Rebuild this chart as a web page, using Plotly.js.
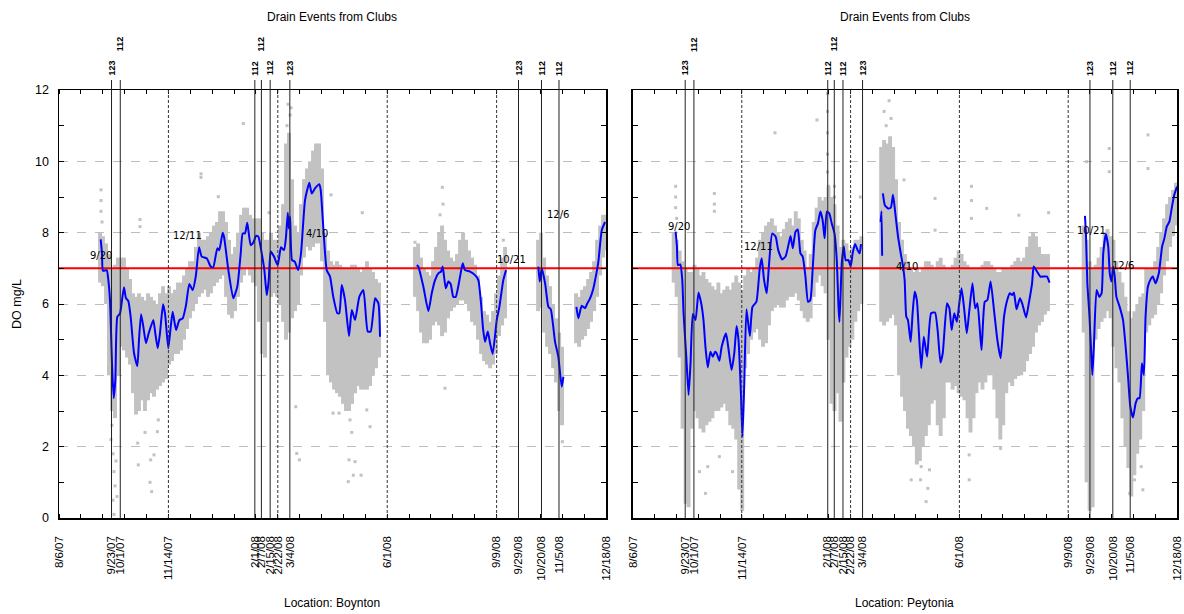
<!DOCTYPE html>
<html><head><meta charset="utf-8">
<script src="https://cdn.plot.ly/plotly-3.0.1.min.js"></script>
<style>html,body{margin:0;padding:0;background:#fff}#chart{width:1184px;height:614px}</style>
</head><body><div id="chart"></div>
<script>
// ---- axis / event data ----
const startDate = [2007, 7, 6]; // 8/6/07, day offsets below are measured from this date
const rangeDates = ['2007-08-06', '2008-12-18'];
const tickDates = ['2007-08-06','2007-09-23','2007-10-01','2007-11-14','2008-02-01','2008-02-07','2008-02-15','2008-02-22','2008-03-04','2008-06-01','2008-09-09','2008-09-29','2008-10-20','2008-11-05','2008-12-18'];
const tickLabels = ['8/6/07','9/23/07','10/1/07','11/14/07','2/1/08','2/7/08','2/15/08','2/22/08','3/4/08','6/1/08','9/9/08','9/29/08','10/20/08','11/5/08','12/18/08'];
const drainDates = ['2007-09-23','2007-10-01','2008-02-01','2008-02-07','2008-02-15','2008-03-04','2008-09-29','2008-10-20','2008-11-05'];
const drainClubs = ['123','112','112','112','112','123','123','112','112'];
const drainRow = [0,1,0,1,0,0,0,0,0];
const dashedDates = ['2007-11-14','2008-02-22','2008-06-01','2008-09-09'];
const threshold = 7;
const yTicks = [0,2,4,6,8,10,12];
const locations = ['Location: Boynton', 'Location: Peytonia'];
const panelTitle = 'Drain Events from Clubs';

// ---- in-plot date notes ----
const noteTextL = ['9/20','12/11','4/10','10/21','12/6'];
const noteDayL = [38.4, 117.0, 235.8, 413.2, 456.1];
const noteDoL = [7.35, 7.91, 7.99, 7.26, 8.52];
const noteTextR = ['9/20','12/11','4/10','10/21','12/6'];
const noteDayR = [42.0, 115.0, 251.8, 421.5, 450.7];
const noteDoR = [8.16, 7.60, 7.04, 8.07, 7.09];

// ---- Boynton (left) smoothed DO line (null = gap) ----
const blueDayL = [38.1,39.3,40.2,43.6,45.1,46.6,47.5,48.4,50.0,51.5,53.3,55.8,57.6,59.4,61.2,63.3,65.5,68.6,71.6,73.1,75.0,77.1,79.5,82.0,86.2,88.0,90.2,92.3,95.1,96.9,99.9,102.1,103.9,107.0,110.0,113.1,116.1,119.1,122.2,125.0,128.0,130.4,135.0,138.7,141.0,144.7,146.5,149.6,150.8,154.8,159.3,163.0,166.1,167.9,170.0,172.1,175.2,177.6,180.1,182.2,185.3,187.7,189.9,191.7,193.5,196.5,199.9,202.9,205.7,207.5,209.1,210.0,211.2,213.0,215.5,218.5,221.2,224.9,228.8,231.0,234.0,237.9,239.2,244.7,247.7,250.7,254.4,256.2,258.4,261.4,265.1,267.6,270.6,274.5,278.2,282.2,284.9,288.9,291.9,293.4,
  null,
  327.0,328.4,333.0,337.6,340.7,343.7,346.7,349.2,350.7,353.5,355.9,358.0,360.4,362.6,366.6,369.0,371.1,375.7,380.3,383.3,385.8,387.6,389.4,391.9,394.0,396.4,400.1,402.5,406.1,408.6,
  null,
  438.1,439.4,441.2,444.3,447.3,449.5,453.4,456.4,459.5,461.0,
  null,
  472.9,474.7,477.8,480.8,482.6,485.4,488.1,490.0,493.0,496.1,499.1];
const blueDoL = [7.81,7.42,6.93,6.95,6.67,6.11,5.27,4.35,3.36,3.87,5.64,5.74,6.11,6.47,6.16,6.09,5.64,4.62,4.26,4.99,5.71,5.36,4.90,5.18,5.55,5.18,4.76,5.18,5.99,5.73,4.76,5.36,5.78,5.27,5.55,5.60,5.97,6.56,6.39,6.77,7.59,7.33,7.28,7.05,7.03,7.56,7.51,8.00,7.89,6.95,6.16,6.49,7.42,7.98,7.98,8.28,7.65,7.72,7.91,7.89,7.42,6.95,6.25,6.67,7.47,7.33,7.09,7.59,7.51,7.89,8.56,8.12,8.45,7.23,7.19,6.95,7.42,8.92,9.40,9.10,9.24,9.36,9.20,6.95,6.77,6.20,5.74,5.74,6.53,6.11,5.10,5.83,5.55,6.20,6.39,5.23,5.23,6.16,6.02,5.08,
  null,
  7.09,7.05,6.49,5.80,6.30,6.67,6.86,6.91,7.05,6.44,6.63,6.56,6.20,6.20,6.77,7.14,6.95,6.91,6.81,6.67,6.00,5.30,4.94,5.23,4.90,4.60,5.55,5.92,6.67,6.95,
  null,
  7.05,6.63,7.00,6.58,5.92,5.85,4.94,4.52,3.68,3.96,
  null,
  5.92,5.60,5.95,5.88,6.00,6.16,6.40,6.67,7.19,8.07,8.30];

// ---- Peytonia (right) smoothed DO line (null = gap) ----
const blueDayR = [39.2,40.4,41.3,43.5,45.3,46.5,49.0,51.1,52.9,55.0,57.5,60.2,62.7,64.8,66.6,68.7,71.2,73.3,75.5,76.9,79.4,81.5,85.5,87.9,90.6,93.1,95.2,97.0,99.2,100.6,102.2,104.3,107.4,109.8,113.4,116.5,118.3,120.4,122.9,125.0,128.0,131.1,133.5,137.1,140.2,143.2,144.8,146.9,149.4,151.5,153.9,156.0,158.5,160.9,163.0,165.1,167.6,170.0,172.2,174.3,176.1,178.2,180.4,182.7,185.2,187.3,188.9,189.8,191.9,193.7,195.5,198.0,200.1,201.9,204.1,206.5,208.3,209.6,
  null,
  227.6,228.4,229.0,
  null,
  229.7,231.5,234.5,237.0,239.0,241.1,243.6,246.1,248.2,249.7,251.2,252.7,255.2,257.0,258.9,260.9,262.8,264.9,267.3,270.3,274.0,277.6,280.1,282.6,284.7,288.6,290.8,292.9,295.3,297.7,299.9,302.0,304.5,306.8,309.0,312.0,314.5,316.6,320.3,323.3,325.7,328.7,331.8,334.9,337.9,341.0,344.0,346.4,348.5,350.1,352.5,355.6,357.7,361.3,363.8,366.8,368.3,371.3,374.4,377.5,380.5,382.9,
  null,
  415.4,416.3,417.6,419.4,420.9,422.2,423.6,426.1,428.6,430.7,432.2,434.6,436.8,438.2,439.8,441.3,442.8,444.3,447.3,450.4,452.8,455.0,457.1,459.6,462.0,464.1,465.6,467.8,469.6,471.1,473.3,475.4,477.8,480.2,483.3,486.3,488.4,490.6,493.0,495.4,497.5,500.0];
const blueDoR = [8.03,7.61,7.09,7.11,6.67,5.74,4.52,3.45,4.34,5.72,5.55,6.32,6.02,5.55,4.80,4.22,4.66,4.52,4.66,4.62,4.41,4.80,5.18,4.71,4.15,4.62,5.38,4.99,3.50,2.28,3.68,5.85,5.10,5.92,6.06,7.00,7.28,6.69,6.30,7.09,7.98,7.89,7.51,7.25,7.33,7.70,7.91,7.56,8.03,8.09,7.42,7.33,6.77,6.06,6.11,6.95,8.07,8.26,8.59,8.35,7.84,8.59,8.54,8.26,7.98,7.23,5.92,5.50,7.14,7.61,7.23,7.23,7.05,7.42,7.68,7.51,7.42,7.68,
  null,
  8.30,8.60,7.35,
  null,
  9.10,8.77,8.68,8.70,9.06,8.54,7.89,7.42,7.05,6.67,5.64,5.55,4.94,5.74,6.34,6.11,5.18,4.20,5.08,4.52,5.74,5.76,5.23,4.36,4.62,6.02,5.88,5.27,5.74,5.50,6.02,6.44,5.83,5.18,5.78,6.58,5.88,6.02,4.71,6.06,6.11,6.63,5.83,4.99,4.48,5.64,6.11,6.30,6.25,6.32,5.85,6.16,6.02,5.62,6.02,6.58,7.05,6.91,6.77,6.77,6.77,6.60,
  null,
  8.47,7.98,6.58,5.74,4.80,4.01,4.80,6.39,6.20,6.30,7.42,7.96,7.61,6.86,6.63,7.05,6.77,6.20,5.92,5.55,4.80,3.96,3.12,2.82,3.22,3.36,3.36,4.34,4.01,5.64,6.49,6.67,6.77,6.58,6.86,7.61,7.84,8.17,8.31,8.73,9.06,9.29];

// ---- raw-reading cloud, Boynton: day, low and high of the dense band ----
const cloudDayL = [37.5,40.2,43.0,45.7,48.4,51.2,53.9,56.7,59.4,62.2,64.9,67.6,70.4,73.1,75.9,78.6,81.4,84.1,86.8,89.6,92.3,95.1,97.8,100.6,103.3,106.0,108.8,111.5,114.3,117.0,119.7,122.5,125.2,128.0,130.7,133.5,136.2,138.9,141.7,144.4,147.2,149.9,152.7,155.4,158.1,160.9,163.6,166.4,169.1,171.9,174.6,177.3,180.1,182.8,185.6,188.3,191.0,193.8,196.5,199.3,202.0,204.8,207.5,210.2,213.0,215.7,218.5,221.2,224.0,226.7,229.4,232.2,234.9,237.7,240.4,243.2,245.9,248.6,251.4,254.1,256.9,259.6,262.3,265.1,267.8,270.6,273.3,276.1,278.8,281.5,284.3,287.0,289.8,292.5,
  325.4,328.2,330.9,333.6,336.4,339.1,341.9,344.6,347.4,350.1,352.8,355.6,358.3,361.1,363.8,366.6,369.3,372.0,374.8,377.5,380.3,383.0,385.8,388.5,391.2,394.0,396.7,399.5,402.2,405.0,407.7,
  437.9,440.6,443.4,446.1,448.8,451.6,454.3,457.1,459.8,
  472.6,475.4,478.1,480.8,483.6,486.3,489.1,491.8,494.6,497.3,499.1];
const cloudLoL = [6.6,6.5,6.0,4.0,3.0,2.8,4.0,4.8,4.7,4.5,4.3,3.5,2.9,3.0,3.3,3.0,3.3,3.5,3.4,3.6,3.7,3.8,3.9,4.3,4.4,4.6,4.6,4.7,5.0,5.3,5.6,5.8,6.0,6.2,6.3,6.4,6.2,6.3,6.5,6.6,6.7,6.8,6.2,5.7,5.6,5.8,6.2,6.6,6.8,7.0,6.8,6.6,6.5,5.5,4.6,4.5,5.5,6.2,6.3,6.2,6.0,5.5,5.0,5.2,5.6,5.8,6.0,6.8,7.3,7.6,7.5,7.6,7.7,7.7,7.2,5.5,4.0,3.8,3.6,3.5,3.4,3.2,3.0,3.0,3.2,3.5,3.7,3.6,3.6,3.6,3.7,4.0,4.2,4.5,
  6.2,5.8,5.2,4.9,4.9,5.0,5.4,5.5,5.4,5.1,5.2,5.6,5.8,5.9,6.0,6.1,6.1,6.0,5.8,5.5,5.4,5.0,4.6,4.4,4.3,4.2,4.3,4.6,5.1,5.4,5.6,
  5.8,5.9,5.2,4.8,4.6,4.2,3.8,3.0,2.6,
  4.9,4.8,5.0,5.1,5.3,5.5,5.8,6.2,6.8,7.3,7.5];
const cloudHiL = [8.0,7.9,7.7,7.4,7.0,7.1,7.3,7.3,7.3,7.0,6.7,6.3,6.2,6.3,6.2,6.1,6.3,6.2,6.1,6.0,6.3,6.5,6.3,6.5,6.3,6.4,6.6,6.6,6.8,7.0,7.2,7.2,7.6,8.0,7.8,7.8,7.9,8.0,8.2,8.3,8.6,8.6,8.3,7.8,7.4,7.6,8.0,8.5,8.7,8.7,8.5,8.4,8.4,8.4,8.0,7.8,7.8,8.0,7.8,7.8,8.2,8.8,10.5,10.8,9.5,8.2,8.0,8.8,9.5,9.8,10.0,10.3,10.5,10.5,9.8,8.0,7.5,7.2,7.1,7.2,7.1,7.0,7.0,7.0,7.1,7.1,7.0,6.9,7.0,7.2,7.0,6.9,6.7,6.6,
  7.6,7.7,7.3,7.0,6.9,6.8,7.2,7.6,8.0,8.2,7.8,7.5,7.3,7.2,7.4,7.8,8.0,7.8,7.5,7.3,7.1,6.8,6.2,5.8,5.7,5.5,5.8,6.3,6.8,7.3,7.6,
  7.8,8.0,7.3,6.8,6.5,6.0,5.6,5.2,4.8,
  6.3,6.2,6.4,6.5,6.7,6.9,7.2,7.8,8.2,8.5,8.5];

// ---- raw-reading cloud, Peytonia ----
const cloudDayR = [37.4,40.1,42.9,45.6,48.4,51.1,53.8,56.6,59.3,62.0,64.8,67.5,70.3,73.0,75.7,78.5,81.2,83.9,86.7,89.4,92.2,94.9,97.6,100.4,103.1,105.8,108.6,111.3,114.1,116.8,119.5,122.3,125.0,127.7,130.5,133.2,135.9,138.7,141.4,144.2,146.9,149.6,152.4,155.1,157.8,160.6,163.3,166.1,168.8,171.5,174.3,177.0,179.7,182.5,185.2,188.0,190.7,193.4,196.2,198.9,201.6,204.4,207.1,209.9,
  228.1,230.8,233.6,236.3,239.1,241.8,244.5,247.3,250.0,252.7,255.5,258.2,260.9,263.7,266.4,269.2,271.9,274.6,277.4,280.1,282.8,285.6,288.3,291.1,293.8,296.5,299.3,302.0,304.7,307.5,310.2,313.0,315.7,318.4,321.2,323.9,326.6,329.4,332.1,334.9,337.6,340.3,343.1,345.8,348.5,351.3,354.0,356.8,359.5,362.2,365.0,367.7,370.4,373.2,375.9,378.6,381.4,
  414.2,416.9,419.7,422.4,425.2,427.9,430.7,433.4,436.1,438.9,441.6,444.3,447.1,449.8,452.6,455.3,458.0,460.8,463.5,466.2,469.0,471.7,474.5,477.2,479.9,482.7,485.4,488.1,490.9,493.6,496.4,499.1];
const cloudLoR = [6.6,6.2,4.5,2.5,0.4,0.3,2.5,3.0,2.8,2.5,2.4,2.6,2.7,2.8,3.0,3.0,3.1,3.2,3.0,2.6,2.5,2.2,0.8,0.2,4.2,4.6,5.0,5.2,5.3,5.0,4.8,4.9,5.4,5.8,5.9,6.0,5.9,5.9,6.1,6.2,6.2,6.3,6.1,5.8,5.6,5.5,5.6,6.2,6.6,6.8,6.5,6.3,5.0,3.2,3.0,3.5,2.7,3.8,4.5,4.8,5.0,5.5,5.8,6.0,
  5.5,5.4,5.5,5.6,5.7,5.4,4.0,3.4,3.0,2.5,2.3,2.0,1.5,1.6,2.0,2.3,2.6,3.2,3.3,2.6,2.3,2.8,3.8,3.8,3.6,3.7,3.5,3.4,3.3,2.8,2.4,2.8,3.5,3.8,3.6,3.8,4.0,4.0,3.6,2.8,2.2,2.6,3.5,3.8,3.7,3.9,4.0,4.0,4.1,4.4,4.6,4.8,5.2,5.4,5.5,5.7,5.8,
  5.2,1.0,0.2,0.3,5.0,5.3,5.5,5.6,5.8,5.6,4.8,4.2,3.8,2.8,2.0,1.4,0.6,1.2,1.8,2.2,3.0,5.2,5.4,5.6,5.7,6.0,6.3,6.8,7.2,7.6,7.9,8.2];
const cloudHiR = [8.0,7.8,7.5,7.2,7.0,6.9,6.9,7.1,7.0,6.8,6.9,6.7,6.6,6.5,6.4,6.6,6.3,6.4,6.5,6.4,6.6,6.8,6.6,6.4,6.8,7.0,6.9,7.0,7.3,7.8,8.0,8.2,8.3,8.4,8.2,8.0,7.9,8.1,8.3,8.4,8.2,8.6,8.4,7.8,7.5,7.0,7.4,8.3,8.7,9.0,8.9,9.0,9.3,9.0,8.8,8.2,7.6,7.8,7.7,7.5,7.6,7.8,7.8,7.9,
  10.4,10.6,10.5,10.7,10.4,9.5,8.3,7.8,7.4,7.2,7.0,6.9,7.0,6.9,7.0,7.2,7.2,7.1,7.0,7.2,7.3,7.1,7.0,7.0,7.1,7.3,7.5,7.4,7.2,7.1,7.0,7.0,7.0,7.0,7.1,7.2,7.2,7.1,7.0,6.9,6.9,7.0,7.0,7.0,7.1,7.2,7.3,7.2,7.3,7.6,7.9,8.0,7.9,7.6,7.4,7.4,7.4,
  8.2,7.8,7.2,7.0,7.1,7.3,7.6,8.0,8.1,7.9,7.8,7.2,6.9,6.6,6.2,5.8,5.6,5.8,6.0,6.2,6.3,7.0,7.0,7.0,7.2,7.6,8.0,8.4,8.8,9.0,9.2,9.4];

// ---- scattered single readings outside the dense band ----
const dotDayL = [38.4,38.4,38.4,39.3,49.4,50.3,51.2,49.4,50.3,52.1,53.0,47.5,48.4,83.2,84.7,83.8,72.5,71.9,86.8,89.9,90.8,78.6,216.4,217.3,219.7,250.5,264.4,269.0,276.1,270.6,265.1,266.0,267.6,284.3,281.3,256.0,352.8,460.1,129.8,129.8,168.5,74.0,74.0,145.6,192.0,248.6,277.2,350.4,351.0,348.3,406.1,209.3,211.2,208.4,212.1,325.4];
const dotDoL = [9.2,8.9,8.6,8.3,1.8,1.3,0.9,0.5,0.1,1.6,0.6,2.2,2.6,1.0,0.74,1.63,1.49,2.1,1.77,2.42,2.75,2.4,3.12,1.81,1.63,2.94,1.02,1.2,1.2,1.58,1.63,2.75,2.4,2.56,3.03,2.94,3.64,2.14,9.65,9.55,11.06,8.37,8.17,9.01,8.56,9.06,8.56,9.27,8.8,8.5,7.79,11.6,11.3,11.0,11.5,7.73];
const dotDayR = [39.2,39.2,39.2,40.1,74.8,74.8,74.8,130.5,169.1,178.8,178.8,178.8,178.8,178.8,179.7,185.2,185.2,208.9,235.4,230.8,232.7,237.2,249.1,277.6,277.6,311.1,311.1,311.1,325.1,354.6,382.0,417.0,437.7,437.7,473.3,473.3,66.6,68.7,79.4,91.5,61.1,255.7,264.9,269.4,271.0,272.5,264.3,309.0,309.0,337.9,456.5,461.0,468.6,467.1];
const dotDoR = [9.3,9.0,8.7,8.4,9.1,8.8,8.6,10.8,11.16,11.9,11.4,10.8,10.2,9.7,9.3,9.3,9.0,9.0,11.7,11.4,11.0,11.2,9.48,8.96,8.07,9.3,8.9,8.4,8.68,8.49,8.56,9.99,10.36,9.71,10.74,9.8,0.69,1.44,1.72,1.3,1.3,1.07,1.44,0.46,0.83,1.35,1.07,1.07,1.77,1.95,0.69,1.07,0.79,1.44];

// ---- helpers ----
const DAY = 86400000;
const base = Date.UTC(startDate[0], startDate[1], startDate[2]);
function toDate(d) {
  if (d === null) return null;
  return new Date(base + d * DAY).toISOString().slice(0, 19).replace('T', ' ');
}
const FONT = 'Liberation Sans, Arial, sans-serif';
const GRAY = '#c2c2c2';

function panelTraces(cDay, cLo, cHi, dDay, dDo, bDay, bDo, xa, ya) {
  return [
    {type: 'bar', x: cDay.map(toDate), base: cLo, y: cHi.map((h, i) => h - cLo[i]),
     width: 3.6 * DAY, marker: {color: GRAY, line: {width: 0}}, xaxis: xa, yaxis: ya,
     hoverinfo: 'skip', showlegend: false},
    {type: 'scatter', mode: 'markers', x: dDay.map(toDate), y: dDo,
     marker: {color: GRAY, size: 3, symbol: 'square'}, xaxis: xa, yaxis: ya,
     hoverinfo: 'skip', showlegend: false, cliponaxis: true},
    {type: 'scatter', mode: 'lines', x: rangeDates, y: [threshold, threshold],
     line: {color: '#ff0000', width: 2}, xaxis: xa, yaxis: ya, hoverinfo: 'skip', showlegend: false},
    {type: 'scatter', mode: 'lines', x: bDay.map(toDate), y: bDo, connectgaps: false,
     line: {color: '#0000ff', width: 2, shape: 'spline', smoothing: 0.5}, xaxis: xa, yaxis: ya,
     hoverinfo: 'skip', showlegend: false}
  ];
}

const data = [].concat(
  panelTraces(cloudDayL, cloudLoL, cloudHiL, dotDayL, dotDoL, blueDayL, blueDoL, 'x', 'y'),
  panelTraces(cloudDayR, cloudLoR, cloudHiR, dotDayR, dotDoR, blueDayR, blueDoR, 'x2', 'y2')
);

function xAxis(domain, anchor) {
  return {
    type: 'date', domain: domain, anchor: anchor, range: rangeDates,
    tickmode: 'array', tickvals: tickDates, ticktext: tickLabels, tickangle: -90,
    ticks: '', ticklabelstandoff: 12, ticklabeloverflow: 'allow', showgrid: false, zeroline: false,
    tickfont: {family: FONT, size: 11.5, color: '#000'},
    showline: true, linecolor: '#000', linewidth: 1.5, mirror: 'allticks',
    minor: {ticks: 'inside', ticklen: 4, tickcolor: '#000', tickwidth: 1, dtick: 20 * DAY, tick0: rangeDates[0], showgrid: false}
  };
}
function yAxis(anchor, showLabels, title) {
  const ax = {
    anchor: anchor, range: [0, 12], tickmode: 'array', tickvals: yTicks,
    showticklabels: showLabels, ticks: 'inside', ticklen: 5, tickcolor: '#000',
    ticklabelstandoff: 6, tickfont: {family: FONT, size: 12.5, color: '#000'},
    showgrid: true, gridcolor: '#bdbdbd', griddash: 'dash', gridwidth: 1, zeroline: false,
    showline: true, linecolor: '#000', linewidth: 1.5, mirror: 'allticks',
    minor: {ticks: 'inside', ticklen: 5, tickcolor: '#000', dtick: 1, showgrid: false}
  };
  if (title) ax.title = {text: title, font: {family: FONT, size: 12.5, color: '#000'}, standoff: 10};
  return ax;
}

const shapes = [];
const annotations = [];
const panels = [{x: 'x', cx: 0.2446}, {x: 'x2', cx: 0.7567}];
panels.forEach((p, pi) => {
  drainDates.forEach((d, i) => {
    shapes.push({type: 'line', xref: p.x, yref: 'paper', x0: d, x1: d, y0: 0, y1: 1.0234,
      line: {color: '#222', width: 1}, layer: 'above'});
    annotations.push({xref: p.x, yref: 'paper', x: d, y: drainRow[i] ? 1.1075 : 1.0515,
      text: '<b>' + drainClubs[i] + '</b>', textangle: -90, showarrow: false,
      font: {family: FONT, size: 9, color: '#000'}, xanchor: 'center', yanchor: 'middle'});
  });
  dashedDates.forEach(d => {
    shapes.push({type: 'line', xref: p.x, yref: 'paper', x0: d, x1: d, y0: 0, y1: 1,
      line: {color: '#333', width: 1, dash: '3px,2px'}, layer: 'above'});
  });
  annotations.push({xref: 'paper', yref: 'paper', x: p.cx, y: 1.1706, text: panelTitle,
    showarrow: false, font: {family: FONT, size: 12, color: '#000'}, xanchor: 'center', yanchor: 'middle'});
  annotations.push({xref: 'paper', yref: 'paper', x: p.cx, y: -0.198, text: locations[pi],
    showarrow: false, font: {family: FONT, size: 12, color: '#000'}, xanchor: 'center', yanchor: 'middle'});
});
const yref = ['y', 'y2'];
[[noteTextL, noteDayL, noteDoL], [noteTextR, noteDayR, noteDoR]].forEach((n, pi) => {
  n[0].forEach((t, i) => {
    annotations.push({xref: panels[pi].x, yref: yref[pi], x: toDate(n[1][i]), y: n[2][i], text: t,
      showarrow: false, font: {family: 'DejaVu Sans, sans-serif', size: 10, color: '#000'},
      xanchor: 'center', yanchor: 'middle'});
  });
});

const layout = {
  width: 1184, height: 614, paper_bgcolor: '#fff', plot_bgcolor: '#fff',
  margin: {l: 59, r: 7, t: 90, b: 96}, showlegend: false, barmode: 'overlay',
  font: {family: FONT, color: '#000'},
  xaxis: xAxis([0, 0.4893], 'y'),
  xaxis2: xAxis([0.5134, 1], 'y2'),
  yaxis: yAxis('x', true, 'DO mg/L'),
  yaxis2: yAxis('x2', false, null),
  shapes: shapes, annotations: annotations
};

Plotly.newPlot('chart', data, layout, {staticPlot: true, displayModeBar: false});
</script>
</body></html>
